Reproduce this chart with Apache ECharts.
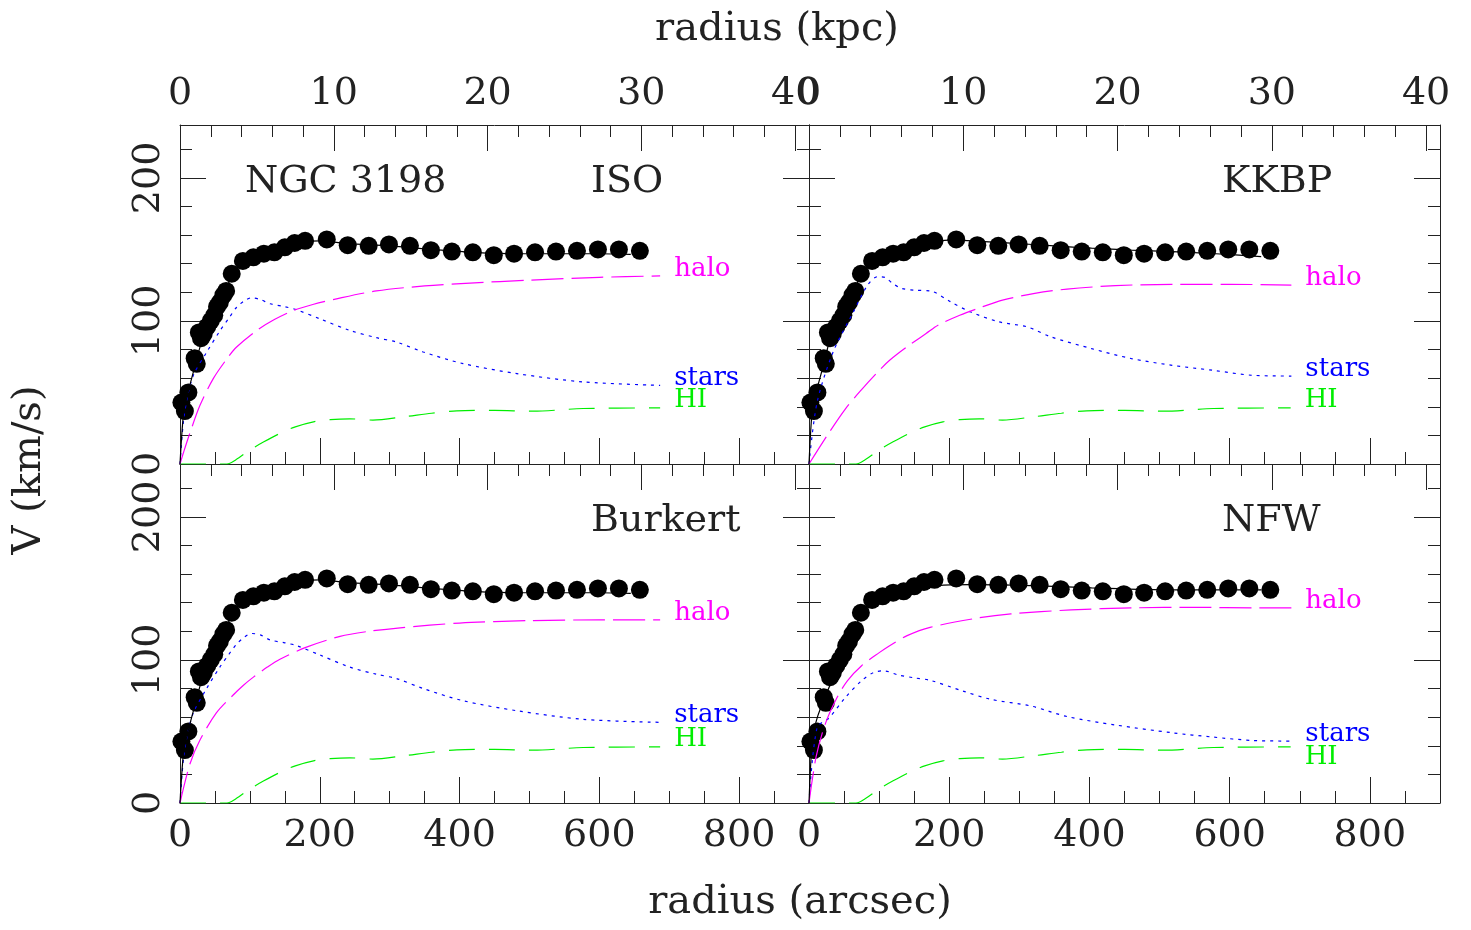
<!DOCTYPE html>
<html>
<head>
<meta charset="utf-8">
<title>NGC 3198 rotation curve fits</title>
<script src="https://cdn.jsdelivr.net/npm/echarts@6/dist/echarts.min.js"></script>
<style>
html, body { margin: 0; padding: 0; background: #fff; }
#chart { width: 1471px; height: 930px; }
</style>
</head>
<body>
<div id="chart"></div>
<script>
// observed rotation curve, radius in arcsec, velocity in km/s
var obsR = [2, 7, 12, 21, 24, 27, 30, 34, 39, 44, 49, 53, 57, 62, 66, 74, 90, 105, 120, 135,
	150, 164, 179, 210, 240, 270, 299, 329, 359, 389, 419, 449, 478, 508, 538, 568, 598, 628, 658];
var obsV = [43, 37, 50, 74, 70, 92, 88, 91, 96, 100, 104, 110, 113, 118, 121, 133, 142, 144.5, 147, 148,
	151.5, 154.5, 156, 157, 153, 152.5, 153.5, 152.5, 149.5, 148.5, 148, 146, 147, 148, 148.5, 149, 150, 150, 149];

// HI gas contribution (same in every fit)
var hiCurve = [[0, 0], [67, 0], [80, 3], [100, 9.8], [120, 15.5], [143, 21.4], [165, 26], [191, 29.5],
	[215, 31], [243, 31.6], [276, 30.7], [320, 33], [360, 35.5], [396, 37.2], [450, 37.5], [505, 36.9],
	[577, 38.8], [687, 39.2]];

// ISO fit
var isoHalo = [[0, 0], [5, 8], [14, 21.4], [28.6, 41], [48, 60], [69, 74.8], [81, 81.8], [110, 93.4],
	[135, 101], [162, 107.3], [190, 111.5], [224, 115.5], [281, 121], [350, 124.5], [415, 126.5],
	[500, 128.5], [600, 130.5], [687, 131.5]];
var isoStars = [[0, 0], [5, 30], [12, 50], [20, 63], [38, 78], [57, 93], [70, 102], [81, 109.6], [92, 114],
	[102, 116.2], [115, 115], [129, 112], [150, 110], [167, 107.8], [200, 101.5], [243, 93.4], [281, 88.3],
	[310, 85.2], [348, 78.3], [405, 70.2], [482, 63.2], [577, 57.4], [687, 55]];
var isoTotal = [[0, 0], [5, 35], [10, 47], [20, 66], [30, 84], [40, 96], [50, 106], [60, 116], [70, 127],
	[80, 136], [90, 141], [105, 144.5], [120, 146.5], [140, 149], [160, 153], [180, 155.5], [200, 156],
	[240, 154], [300, 152.5], [360, 150], [420, 148], [480, 147], [540, 147], [600, 147], [645, 146.5]];

// KKBP fit
var kkbpHalo = [[0, 0], [26, 20], [52, 38.6], [75, 52], [98, 64.3], [115, 72.5], [140, 82], [167, 91.2],
	[184, 97], [215, 104], [248, 110], [276, 114.6], [322, 119.3], [368, 122.3], [437, 124.7],
	[518, 125.6], [600, 125.6], [688, 125.1]];
var kkbpStars = [[0, 0], [11.5, 43], [34.5, 78.4], [63, 106], [83.5, 125], [98, 131], [109, 130.3],
	[120, 126], [132, 122.8], [150, 121.5], [173, 121], [201.5, 113.5], [230, 106.4], [270.6, 99.4],
	[311, 95.9], [345, 88.9], [403, 80.7], [460, 73.7], [518, 69], [576, 65.5], [633, 62], [688, 61.5]];
var kkbpTotal = [[0, 0], [5, 40], [10, 50], [20, 68], [30, 87], [40, 98], [50, 108], [60, 118], [70, 128],
	[75, 133], [90, 140], [98, 141.5], [120, 146], [150, 151], [200, 156.5], [250, 155.5], [288, 154.4],
	[350, 152.5], [403, 150.9], [460, 149.5], [518, 148.5], [580, 147], [645, 145]];

// Burkert fit
var burHalo = [[0, 0], [14, 27], [28.6, 44], [52, 63], [75, 75], [90, 82], [105, 88], [125, 95],
	[143, 100.5], [181, 109], [229, 116.5], [270, 120], [315, 122.5], [400, 125.8], [500, 127.5],
	[600, 128], [687, 128]];
var burStars = [[0, 0], [5, 31], [12, 51], [20, 64], [38, 80], [57, 95], [70, 104], [81, 111], [92, 116],
	[102, 118.5], [115, 117.5], [129, 114], [150, 112], [167, 110], [200, 103.5], [243, 95], [281, 90],
	[310, 87], [348, 80], [405, 71.5], [482, 64.5], [577, 58.5], [687, 56.4]];
var burTotal = [[0, 0], [5, 35], [10, 47], [20, 66], [30, 84], [40, 96], [50, 106], [60, 116], [70, 127],
	[80, 136], [90, 141], [105, 144.5], [120, 146.5], [140, 149], [160, 153], [180, 155.5], [200, 156],
	[240, 154], [300, 152.5], [360, 150], [420, 148], [480, 147], [540, 147], [600, 147], [645, 146.5]];

// NFW fit
var nfwHalo = [[0, 0], [10, 32], [23, 55], [40, 73.7], [54.7, 85.4], [75, 96], [100.7, 105.3], [115, 110],
	[140, 117], [172.7, 122.8], [241.8, 129.4], [288, 132.2], [374, 135], [460, 136.4], [553, 136.8],
	[633, 136.4], [688, 136.4]];
var nfwStars = [[0, 0], [11.5, 52.6], [28.8, 59.6], [51.8, 73.7], [74.8, 85.4], [92, 91.2], [106.5, 92.4],
	[126.6, 89.6], [150, 87.5], [172.7, 85.8], [218.8, 78.4], [259, 72.5], [316.6, 67.8], [368.4, 60.4],
	[437.5, 54.5], [518, 49.1], [575.7, 46.1], [633, 43.7], [688, 43.3]];
var nfwTotal = [[0, 0], [5, 45], [12, 60], [23, 74], [35, 88], [46, 97], [60, 115], [75, 132], [92, 139],
	[120, 144], [144, 147], [184, 152], [230, 152.7], [316, 152], [403, 150.4], [518, 149], [645, 149]];

// axis ranges
var arcMax = 900, kpcMax = 40.9, vMax = 237;

var FONT = 'DejaVu Serif';
var INK = '#222';

var panels = [
	{ name: 'ISO', grid: [180, 125, 629, 339], halo: isoHalo, stars: isoStars, total: isoTotal,
		showX: false, showKpc: true, showY: true, hiOff: -8 },
	{ name: 'KKBP', grid: [809, 125, 631, 339], halo: kkbpHalo, stars: kkbpStars, total: kkbpTotal,
		showX: false, showKpc: true, showY: false, hiOff: -8 },
	{ name: 'Burkert', grid: [180, 464, 629, 339], halo: burHalo, stars: burStars, total: burTotal,
		showX: true, showKpc: false, showY: true, hiOff: -8 },
	{ name: 'NFW', grid: [809, 464, 631, 339], halo: nfwHalo, stars: nfwStars, total: nfwTotal,
		showX: true, showKpc: false, showY: false, hiOff: 10 }
];

var grids = [], xAxes = [], yAxes = [], series = [];
var lineSt = { color: INK, width: 1 };

function tickAxis(p, pos, max, step, len, major, label, extra) {
	var a = {
		gridIndex: p,
		type: 'value',
		position: pos,
		min: 0,
		max: max,
		interval: step,
		axisLine: { show: major, onZero: false, lineStyle: lineSt },
		axisTick: { show: true, inside: true, length: len, lineStyle: lineSt },
		axisLabel: { show: label, showMaxLabel: false, fontFamily: FONT, fontSize: 38, color: INK },
		splitLine: { show: false }
	};
	if (extra) {
		for (var k in extra) a.axisLabel[k] = extra[k];
	}
	return a;
}

function endLbl(text, color, dy) {
	return {
		show: true,
		formatter: text,
		color: color,
		fontFamily: FONT,
		fontSize: 26,
		distance: 14,
		offset: [0, dy]
	};
}

var pts = [];
for (var j = 0; j < obsR.length; j++) pts.push([obsR[j], obsV[j]]);

for (var i = 0; i < panels.length; i++) {
	var pn = panels[i];
	grids.push({ left: pn.grid[0], top: pn.grid[1], width: pn.grid[2], height: pn.grid[3] });

	xAxes.push(tickAxis(i, 'bottom', arcMax, 200, 26, true, pn.showX, { margin: 14 }));
	xAxes.push(tickAxis(i, 'bottom', arcMax, 50, 12, false, false));
	xAxes.push(tickAxis(i, 'top', kpcMax, 10, 26, true, pn.showKpc, { margin: 12 }));
	xAxes.push(tickAxis(i, 'top', kpcMax, 2, 12, false, false));

	yAxes.push(tickAxis(i, 'left', vMax, 100, 26, true, pn.showY, { rotate: 90, margin: 12 }));
	yAxes.push(tickAxis(i, 'left', vMax, 20, 12, false, false));
	yAxes.push(tickAxis(i, 'right', vMax, 100, 26, true, false));
	yAxes.push(tickAxis(i, 'right', vMax, 20, 12, false, false));

	var ax = i * 4;

	series.push({
		type: 'line', xAxisIndex: ax, yAxisIndex: ax, data: hiCurve,
		showSymbol: false, smooth: 0.3,
		lineStyle: { color: '#00ee00', width: 1.2, type: [26, 14] },
		endLabel: endLbl('HI', '#00ee00', pn.hiOff)
	});
	series.push({
		type: 'line', xAxisIndex: ax, yAxisIndex: ax, data: pn.stars,
		showSymbol: false, smooth: 0.3,
		lineStyle: { color: '#0000ff', width: 1.2, type: [3, 5] },
		endLabel: endLbl('stars', '#0000ff', -7)
	});
	series.push({
		type: 'line', xAxisIndex: ax, yAxisIndex: ax, data: pn.halo,
		showSymbol: false, smooth: 0.3,
		lineStyle: { color: '#ff00ff', width: 1.2, type: [32, 8] },
		endLabel: endLbl('halo', '#ff00ff', -7)
	});
	series.push({
		type: 'line', xAxisIndex: ax, yAxisIndex: ax, data: pn.total,
		showSymbol: false, smooth: 0.3,
		lineStyle: { color: '#000', width: 1.2 }
	});
	series.push({
		type: 'scatter', xAxisIndex: ax, yAxisIndex: ax, data: pts,
		symbol: 'circle', symbolSize: 18,
		itemStyle: { color: '#000', opacity: 1 }
	});
}

function txt(s, x, y, size, align, rot) {
	return {
		type: 'text',
		x: x, y: y,
		rotation: rot || 0,
		style: {
			text: s, x: 0, y: 0,
			font: size + 'px "' + FONT + '"',
			fill: INK,
			textAlign: align, textVerticalAlign: 'middle',
			align: align, verticalAlign: 'middle'
		}
	};
}

var option = {
	animation: false,
	backgroundColor: '#fff',
	grid: grids,
	xAxis: xAxes,
	yAxis: yAxes,
	series: series,
	graphic: [
		txt('NGC 3198', 245, 182, 38, 'left'),
		txt('ISO', 591, 182, 38, 'left'),
		txt('KKBP', 1222, 182, 38, 'left'),
		txt('Burkert', 591, 521, 38, 'left'),
		txt('NFW', 1222, 521, 38, 'left'),
		txt('radius (kpc)', 777, 30, 40, 'center'),
		txt('radius (arcsec)', 800, 903, 40, 'center'),
		txt('V (km/s)', 30, 470, 40, 'center', Math.PI / 2)
	]
};

var chart = echarts.init(document.getElementById('chart'));
chart.setOption(option);
</script>
</body>
</html>
